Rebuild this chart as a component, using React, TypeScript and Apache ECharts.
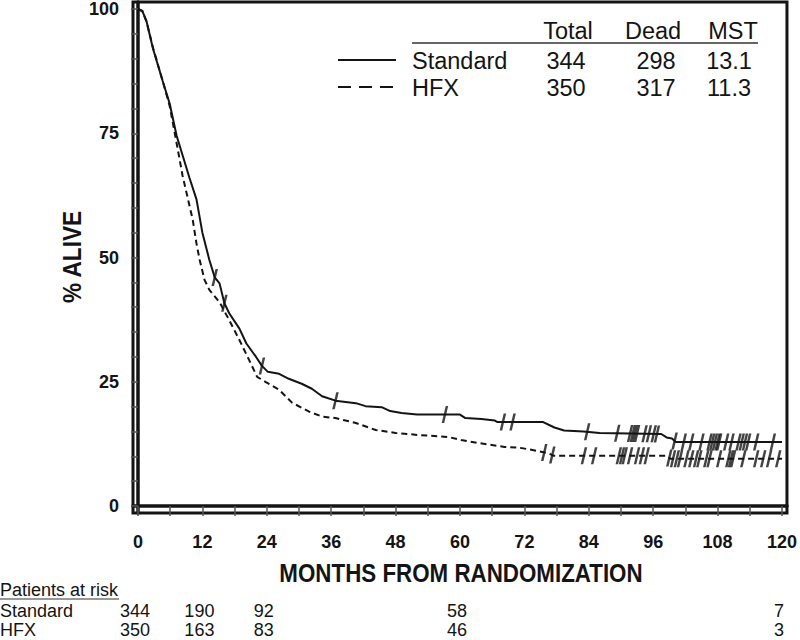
import React, { useEffect, useRef } from "react";
import * as echarts from "echarts";

// ---- data ----
const standardCurve: [number, number][] = [
  [0, 100], [0.8, 99.6], [1.6, 97.5], [2.8, 92], [4.6, 85.5], [5.9, 81], [7.2, 74.5],
  [9.6, 66], [10.9, 61.7], [12, 55], [13.3, 49.5], [14.3, 46], [15.2, 44.8], [16.1, 40.8],
  [17, 38.8], [18.9, 35.7], [20.2, 32.7], [22, 30], [23.1, 28.2], [24.2, 27], [26.3, 26.6],
  [28.1, 25.6], [30.5, 24.6], [32.4, 23.6], [34.3, 22.1], [36.8, 21.2], [40.6, 20.7],
  [42.4, 20.1], [45.4, 19.9], [47, 19.1], [49.1, 18.7], [52, 18.4], [60, 18.4], [61, 17.7],
  [64, 17.5], [66.5, 17.2], [67, 16.9], [75.5, 16.9], [77.6, 15.8], [79.4, 15.2], [83, 15],
  [86, 14.7], [97.5, 14.5], [98.5, 13.8], [99.5, 13.6], [100.2, 12.9], [120, 12.9],
];
const hfxCurve: [number, number][] = [
  [0, 100], [0.8, 99.6], [1.6, 97.4], [2.8, 92.2], [4.6, 85.5], [5.9, 80.5], [7.2, 73],
  [8.3, 66.5], [10.2, 57.6], [10.9, 52.8], [11.5, 49.5], [12.4, 45.5], [13.3, 43.5],
  [15.2, 41], [17, 37.4], [18.9, 33.4], [20.7, 29.4], [22.2, 26], [23.9, 24.9], [26.3, 23.4],
  [28.7, 20.8], [31.9, 19], [34.3, 18], [36.8, 17.7], [40.6, 16.7], [44.3, 15.3], [48, 14.7],
  [52.2, 14.3], [57.8, 13.9], [60.2, 13.3], [63.3, 12.7], [68.3, 11.9], [71.3, 11.7],
  [74.4, 11.1], [76.5, 10.6], [77.5, 10.1], [98.5, 10.1], [99.2, 9.5], [120, 9.5],
];
const standardCensor: number[] = [
  14.3, 16.1, 23.1, 36.8, 57.2, 68, 69.8, 83.7, 89.3, 91.7, 92.2, 92.6, 93, 94.4, 95.2, 96.1,
  96.7, 100, 101.7, 103.1, 105, 106.5, 107, 107.5, 108, 108.3, 109.6, 110.6, 111.9, 112.5,
  113.1, 113.7, 115.2, 118.3,
];
const hfxCensor: number[] = [
  75.7, 77.2, 83.1, 85, 89.6, 90.2, 90.7, 91.7, 93, 93.9, 94.8, 99, 99.7, 100.4, 101, 102.2,
  103.1, 104, 104.6, 105.9, 106.5, 108.3, 110, 110.5, 110.9, 112.8, 115.2, 116.5, 117.6, 119.3,
];
const xLabelValues = [0, 12, 24, 36, 48, 60, 72, 84, 96, 108, 120];
const xTickValues = [0, 6, 12, 18, 24, 30, 36, 42, 48, 54, 60, 66, 72, 78, 84, 90, 96, 102, 108, 114, 120];
const yLabelValues = [0, 25, 50, 75, 100];
const yTickValues = [0, 5, 10, 15, 20, 25, 30, 35, 40, 45, 50, 55, 60, 65, 70, 75, 80, 85, 90, 95, 100];

const groups = ["Standard", "HFX"];
const tableHeaders = ["Total", "Dead", "MST"];
const totals = ["344", "350"];
const deaths = ["298", "317"];
const mst = ["13.1", "11.3"];

const atRiskMonths = [0, 12, 24, 60, 120];
const atRiskStandard = ["344", "190", "92", "58", "7"];
const atRiskHfx = ["350", "163", "83", "46", "3"];

const FONT = '"Liberation Sans", Arial, sans-serif';
const INK = "#141414";

function valueAt(curve: [number, number][], t: number): number {
  for (let i = 1; i < curve.length; i++) {
    const [x0, y0] = curve[i - 1];
    const [x1, y1] = curve[i];
    if (t >= x0 && t <= x1) {
      if (x1 === x0) return y1;
      return y0 + ((y1 - y0) * (t - x0)) / (x1 - x0);
    }
  }
  return curve[curve.length - 1][1];
}

const CENSOR = "path://M4,0 L6.5,0 L2.5,17 L0,17 Z";

export default function App() {
  const ref = useRef<HTMLDivElement>(null);
  useEffect(() => {
    if (!ref.current) return;
    const chart = echarts.init(ref.current, undefined, { renderer: "svg" });
    chart.setOption({
      animation: false,
      backgroundColor: "#ffffff",
      grid: {
        left: 133, right: 9, top: 2, bottom: 127,
        show: true, borderColor: INK, borderWidth: 3, backgroundColor: "transparent",
      },
      xAxis: {
        type: "value", min: -0.93, max: 120.93,
        axisLine: { show: true, lineStyle: { color: INK, width: 3.5 } },
        axisTick: { show: true, customValues: xTickValues, length: 10, lineStyle: { color: "#555", width: 1.5 } },
        axisLabel: {
          customValues: xLabelValues, margin: 20, fontFamily: FONT, fontWeight: "bold",
          fontSize: 18, color: INK,
        },
        splitLine: { show: false },
      },
      yAxis: {
        type: "value", min: -1.4, max: 101.4,
        axisLine: { show: true, lineStyle: { color: INK, width: 3.5 } },
        axisTick: { show: true, customValues: yTickValues, length: 7, lineStyle: { color: "#555", width: 1.5 } },
        axisLabel: {
          customValues: yLabelValues, margin: 14, fontFamily: FONT, fontWeight: "bold",
          fontSize: 18, color: INK,
        },
        splitLine: { show: false },
      },
      series: [
        {
          type: "line", name: "Standard", data: standardCurve, showSymbol: false, symbol: "none",
          lineStyle: { color: INK, width: 2 }, z: 3,
        },
        {
          type: "line", name: "HFX", data: hfxCurve, showSymbol: false, symbol: "none",
          lineStyle: { color: INK, width: 2, type: [6, 4] }, z: 3,
        },
        {
          type: "scatter", name: "Standard censored",
          data: standardCensor.map((t) => [t, valueAt(standardCurve, t)]),
          symbol: CENSOR, symbolSize: [6.5, 17], itemStyle: { color: INK }, z: 4,
        },
        {
          type: "scatter", name: "HFX censored",
          data: hfxCensor.map((t) => [t, valueAt(hfxCurve, t)]),
          symbol: CENSOR, symbolSize: [6.5, 17], itemStyle: { color: INK }, z: 4,
        },
      ],
    });

    const px = (m: number) => chart.convertToPixel({ xAxisIndex: 0 }, m) as number;
    const txt = (text: string, x: number, y: number, size: number, align = "left", extra: any = {}) => ({
      type: "text", x, y, z: 10,
      style: { text, font: `${size}px ${FONT}`, fill: INK, align, verticalAlign: "middle" },
      ...extra,
    });

    const graphics: any[] = [];
    // Axis titles
    graphics.push({
      type: "text", x: 461, y: 573, scaleX: 0.86, z: 10,
      style: { text: "MONTHS FROM RANDOMIZATION", font: `bold 26px ${FONT}`, fill: INK, align: "center", verticalAlign: "middle" },
    });
    graphics.push({
      type: "text", x: 72, y: 257, rotation: Math.PI / 2, scaleX: 0.87, z: 10,
      style: { text: "% ALIVE", font: `bold 26px ${FONT}`, fill: INK, align: "center", verticalAlign: "middle" },
    });

    // Legend table
    const colX = [566, 656, 729];
    const headX = [568, 653, 733];
    tableHeaders.forEach((h, i) => graphics.push(txt(h, headX[i], 31, 23.5, "center")));
    graphics.push({ type: "line", z: 10, shape: { x1: 412, y1: 43, x2: 758, y2: 43 }, style: { stroke: "#333", lineWidth: 1.5 } });
    const rowY = [61, 88];
    groups.forEach((g, r) => {
      graphics.push(txt(g, 412, rowY[r], 23.5, "left"));
      graphics.push(txt(totals[r], colX[0], rowY[r], 23.5, "center"));
      graphics.push(txt(deaths[r], colX[1], rowY[r], 23.5, "center"));
      graphics.push(txt(mst[r], colX[2], rowY[r], 23.5, "center"));
    });
    graphics.push({ type: "line", z: 10, shape: { x1: 338, y1: 60, x2: 396, y2: 60 }, style: { stroke: INK, lineWidth: 2 } });
    graphics.push({ type: "line", z: 10, shape: { x1: 338, y1: 87, x2: 398, y2: 87 }, style: { stroke: INK, lineWidth: 2, lineDash: [13, 8] } });

    // Patients at risk
    graphics.push(txt("Patients at risk", 0, 590, 18, "left"));
    graphics.push({ type: "line", z: 10, shape: { x1: 0, y1: 599, x2: 119, y2: 599 }, style: { stroke: "#333", lineWidth: 1 } });
    graphics.push(txt("Standard", 0, 611, 18, "left"));
    graphics.push(txt("HFX", 0, 630, 18, "left"));
    atRiskMonths.forEach((m, i) => {
      const x = px(m) - 3;
      graphics.push(txt(atRiskStandard[i], x, 611, 18, "center"));
      graphics.push(txt(atRiskHfx[i], x, 630, 18, "center"));
    });

    chart.setOption({ graphic: graphics });
    return () => chart.dispose();
  }, []);
  return <div ref={ref} style={{ position: "fixed", left: 0, top: 0, width: 800, height: 640 }} />;
}
